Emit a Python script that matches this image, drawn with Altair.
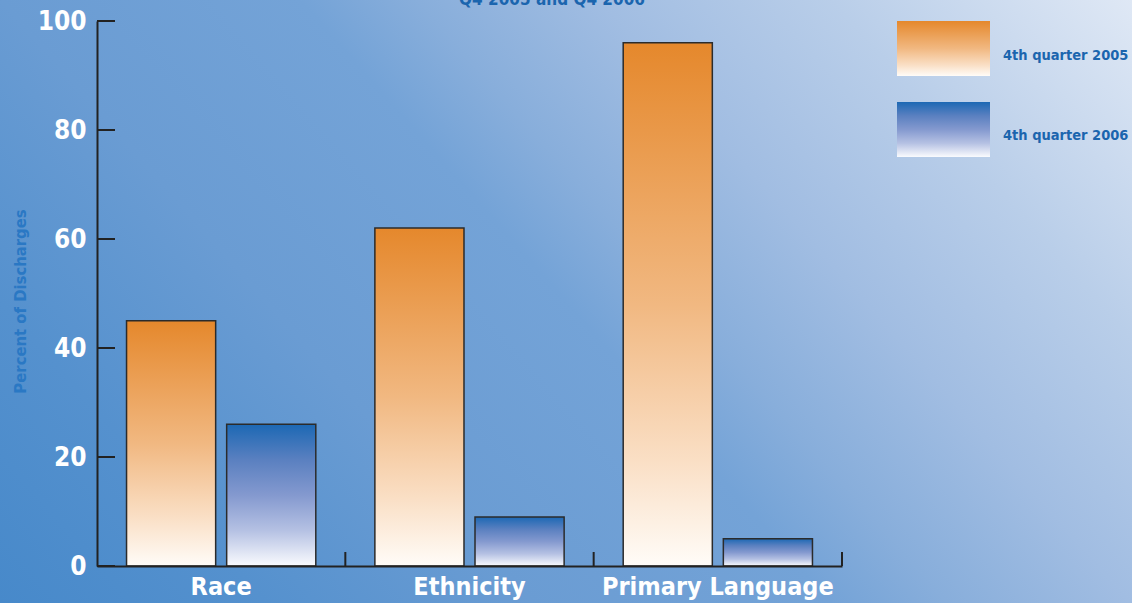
import altair as alt
import pandas as pd

# ---- data -------------------------------------------------------------
heading = "Q4 2005 and Q4 2006"
categories = ["Race", "Ethnicity", "Primary Language"]
series = ["4th quarter 2005", "4th quarter 2006"]
q4_2005 = [45, 62, 96]
q4_2006 = [26, 9, 5]
y_ticks = [0, 20, 40, 60, 80, 100]

bars_df = pd.DataFrame({
    "category": categories * 2,
    "series": [series[0]] * len(categories) + [series[1]] * len(categories),
    "value": q4_2005 + q4_2006,
})
legend_df = pd.DataFrame({"series": series})
ytick_df = pd.DataFrame({"v": y_ticks})
xtick_df = pd.DataFrame({"category": categories})
heading_df = pd.DataFrame({"t": [heading]})

# ---- styling ----------------------------------------------------------
FONT = "Liberation Sans Narrow, DejaVu Sans Condensed, Arial Narrow, sans-serif"
AXIS_INK = "#222222"
TEXT_BLUE = "#1B65AE"

W, H = 745, 545
PAD = {"left": 97, "top": 21, "right": 290, "bottom": 37}

orange_grad = {
    "gradient": "linear", "x1": 0, "y1": 0, "x2": 0, "y2": 1,
    "stops": [
        {"offset": 0.0, "color": "#E5882C"},
        {"offset": 0.5, "color": "#F1B881"},
        {"offset": 0.8, "color": "#FADFC5"},
        {"offset": 1.0, "color": "#FFFCF8"},
    ],
}
blue_grad = {
    "gradient": "linear", "x1": 0, "y1": 0, "x2": 0, "y2": 1,
    "stops": [
        {"offset": 0.0, "color": "#1C68B4"},
        {"offset": 0.25, "color": "#5A80C0"},
        {"offset": 0.5, "color": "#8499CF"},
        {"offset": 0.75, "color": "#B5C1E3"},
        {"offset": 1.0, "color": "#FAFBFE"},
    ],
}
page_grad = {
    "gradient": "linear", "x1": 0, "y1": 1, "x2": 1.204, "y2": 0.435,
    "stops": [
        {"offset": 0.0, "color": "#4789CA"},
        {"offset": 0.16, "color": "#5591CE"},
        {"offset": 0.32, "color": "#6A9CD3"},
        {"offset": 0.50, "color": "#74A3D7"},
        {"offset": 0.57, "color": "#88AEDB"},
        {"offset": 0.68, "color": "#A1BDE2"},
        {"offset": 0.82, "color": "#B9CEE9"},
        {"offset": 1.0, "color": "#DFE8F5"},
    ],
}

fill_enc = (
    alt.when(alt.datum.series == series[0])
    .then(alt.value(orange_grad))
    .otherwise(alt.value(blue_grad))
)

x_scale = alt.Scale(domain=categories, paddingInner=0, paddingOuter=0)
x_axis = alt.Axis(
    title=None, labelAngle=0, ticks=False, labelLimit=400,
    labelFont=FONT, labelFontSize=25, labelFontWeight="bold",
    labelColor="white", labelPadding=8,
    domainColor=AXIS_INK, domainWidth=2, zindex=1,
)
y_scale = alt.Scale(domain=[0, 100], nice=False)
y_axis = alt.Axis(
    title="Percent of Discharges", values=y_ticks, ticks=False, grid=False,
    labelFont=FONT, labelFontSize=26, labelFontWeight="bold",
    labelColor="white", labelPadding=11,
    domainColor=AXIS_INK, domainWidth=2,
    titleFont=FONT, titleFontSize=16.5, titleFontWeight="bold",
    titleColor="#2A78C4", titleX=-77, titleY=280,
    titleAlign="center", titleBaseline="middle", zindex=1,
)

# ---- layers -----------------------------------------------------------
backdrop = alt.Chart(alt.Data(values=[{"k": 0}])).mark_rect(fill=page_grad).encode(
    x=alt.value(-PAD["left"]), x2=alt.value(W + PAD["right"]),
    y=alt.value(-PAD["top"]), y2=alt.value(H + PAD["bottom"]),
)

# heading sits at the very top edge of the page
heading_text = alt.Chart(heading_df).mark_text(
    align="center", baseline="alphabetic",
    font=FONT, fontSize=17, fontWeight="bold", color=TEXT_BLUE,
).encode(x=alt.value(455), y=alt.value(-16), text="t:N")

bars = alt.Chart(bars_df).mark_bar(stroke="#2B2B2B", strokeWidth=1.5).encode(
    x=alt.X("category:N", sort=categories, scale=x_scale, axis=x_axis),
    xOffset=alt.XOffset(
        "series:N", sort=series,
        scale=alt.Scale(domain=series, paddingInner=0.11, paddingOuter=0.295),
    ),
    y=alt.Y("value:Q", scale=y_scale, axis=y_axis),
    fill=fill_enc,
)

# inward-pointing tick marks on both axes
x_ticks = alt.Chart(xtick_df).mark_rule(color=AXIS_INK, strokeWidth=2).encode(
    x=alt.X("category:N", sort=categories, scale=x_scale, axis=x_axis, bandPosition=1),
    y=alt.value(H), y2=alt.value(H - 14),
)
y_tick_marks = alt.Chart(ytick_df).mark_rule(color=AXIS_INK, strokeWidth=2).encode(
    y=alt.Y("v:Q", scale=y_scale, axis=None),
    x=alt.value(0), x2=alt.value(18),
)

legend_y = alt.Scale(type="band", domain=series, range=[0, 136],
                     paddingInner=0.32, paddingOuter=0)
legend_swatch = alt.Chart(legend_df).mark_rect().encode(
    x=alt.value(800), x2=alt.value(893),
    y=alt.Y("series:N", sort=series, scale=legend_y, axis=None),
    fill=fill_enc,
)
legend_text = alt.Chart(legend_df).mark_text(
    align="left", baseline="middle", dy=7,
    font=FONT, fontSize=14.5, fontWeight="bold", color=TEXT_BLUE,
).encode(
    x=alt.value(906),
    y=alt.Y("series:N", sort=series, scale=legend_y, axis=None, bandPosition=0.5),
    text="series:N",
)

chart = (
    alt.layer(backdrop, heading_text, bars, x_ticks, y_tick_marks,
              legend_swatch, legend_text)
    .resolve_scale(y="independent")
    .properties(
        width=W, height=H,
        padding=PAD,
        autosize=alt.AutoSizeParams(type="none"),
    )
    .configure(font=FONT)
    .configure_view(strokeWidth=0)
)

chart.save("out.html", embed_options={"renderer": "svg", "actions": False})
